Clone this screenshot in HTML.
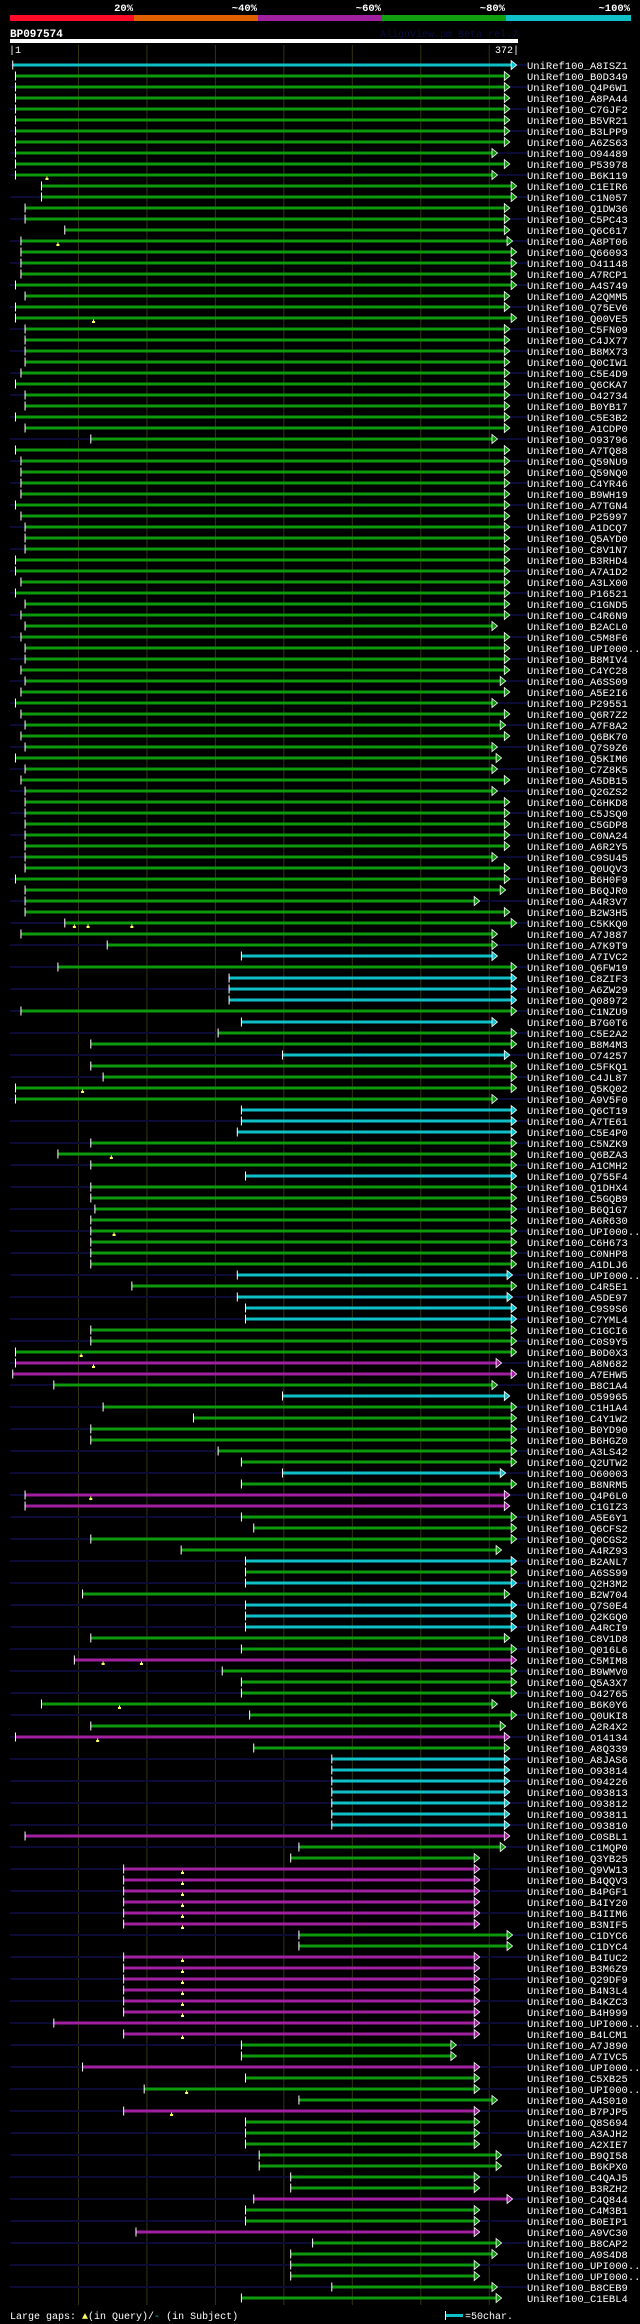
<!DOCTYPE html>
<html>
<head>
<meta charset="utf-8">
<style>
  html,body{margin:0;padding:0;background:#000;}
  body{width:640px;height:2324px;overflow:hidden;position:relative;}
  svg{display:block;}
  text{font-family:"Liberation Mono","DejaVu Sans Mono",monospace;}
</style>
</head>
<body>
<svg id="chart" width="640" height="2324" viewBox="0 0 640 2324" xmlns="http://www.w3.org/2000/svg">
  <rect x="0" y="0" width="640" height="2324" fill="#000"/>
  <g>
    <rect x="10" y="15" width="124" height="6" fill="#ff0a28"/>
    <rect x="134" y="15" width="124" height="6" fill="#e06000"/>
    <rect x="258" y="15" width="124" height="6" fill="#a020a0"/>
    <rect x="382" y="15" width="124" height="6" fill="#10a010"/>
    <rect x="506" y="15" width="125" height="6" fill="#10c0c8"/>
    <text x="133" y="11" fill="#fff" font-size="10.5" font-weight="bold" text-anchor="end">20%</text>
    <text x="257" y="11" fill="#fff" font-size="10.5" font-weight="bold" text-anchor="end">~40%</text>
    <text x="381" y="11" fill="#fff" font-size="10.5" font-weight="bold" text-anchor="end">~60%</text>
    <text x="505" y="11" fill="#fff" font-size="10.5" font-weight="bold" text-anchor="end">~80%</text>
    <text x="630" y="11" fill="#fff" font-size="10.5" font-weight="bold" text-anchor="end">~100%</text>
  </g>
  <text x="10" y="37" fill="#fff" font-size="11" font-weight="bold">BP097574</text>
  <text x="518" y="37" fill="#0c0c44" font-size="10" text-anchor="end">AlignView.pm Beta rel.7</text>
  <rect x="10" y="39" width="508" height="4" fill="#fff"/>
  <text x="9" y="53" fill="#fff" font-size="10">|1</text>
  <text x="519" y="53" fill="#fff" font-size="10" text-anchor="end">372|</text>
  <g id="grid"></g>
  <g id="rows"></g>
  <g>
    <text x="10" y="2319" fill="#fff" font-size="10">Large gaps: <tspan fill="#ffff60">▲</tspan>(in Query)/<tspan fill="#10c0c8">-</tspan> (in Subject)</text>
    <rect x="445" y="2311" width="1" height="9" fill="#fff"/>
    <rect x="446" y="2314" width="17" height="3" fill="#10c0c8"/>
    <text x="465" y="2319" fill="#fff" font-size="10">=50char.</text>
  </g>
</svg>
<script>
const names = ["A8ISZ1","B0D349","Q4P6W1","A8PA44","C7GJF2","B5VR21","B3LPP9","A6ZS63","O94489","P53978","B6K119","C1EIR6","C1N057","Q1DW36","C5PC43","Q6C617","A8PT06","Q66093","O41148","A7RCP1","A4S749","A2QMM5","Q75EV6","Q00VE5","C5FN09","C4JX77","B8MX73","Q0CIW1","C5E4D9","Q6CKA7","O42734","B0YB17","C5E3B2","A1CDP0","O93796","A7TQ88",
"Q59NU9","Q59NQ0","C4YR46","B9WH19","A7TGN4","P25997","A1DCQ7","Q5AYD0","C8V1N7","B3RHD4","A7A1D2","A3LX00","P16521","C1GND5","C4R6N9","B2ACL0","C5M8F6","UPI000..","B8MIV4","C4YC28","A6SS09","A5E2I6","P29551","Q6R7Z2","A7F8A2","Q6BK70","Q7S9Z6","Q5KIM6","C7Z8K5","A5DB15","Q2GZS2","C6HKD8","C5JSQ0","C5GDP8","C0NA24","A6R2Y5","C9SU45","Q0UQV3","B6H0F9","B6QJR0","A4R3V7","B2W3H5","C5KKQ0","A7J887","A7K9T9","A7IVC2","Q6FW19","C8ZIF3","A6ZW29","Q08972","C1NZU9","B7G0T6","C5E2A2","B8M4M3","O74257","C5FKQ1","C4JL87","Q5KQ02","A9V5F0","Q6CT19","A7TE61","C5E4P0","C5NZK9","Q6BZA3","A1CMH2","Q755F4","Q1DHX4","C5GQB9","B6Q1G7","A6R630","UPI000..","C6H673","C0NHP8","A1DLJ6","UPI000..","C4R5E1","A5DE97","C9S9S6","C7YML4","C1GCI6","C0S9Y5","B0D0X3","A8N682","A7EHW5",
"B8C1A4","O59965","C1H1A4","C4Y1W2","B0YD90","B6HGZ0","A3LS42","Q2UTW2","O60003","B8NRM5","Q4P6L0","C1GIZ3","A5E6Y1","Q6CFS2","Q0CGS2","A4RZ93","B2ANL7","A6SS99","Q2H3M2","B2W704","Q7S0E4","Q2KGQ0","A4RCI9","C8V1D8","Q016L6","C5MIM8","B9WMV0","Q5A3X7","O42765","B6K0Y6","Q0UKI8","A2R4X2","O14134","A8Q339","A8JAS6","O93814","O94226","O93813","O93812","O93811","O93810","C0SBL1","C1MQP0","Q3YB25","Q9VW13","B4QQV3","B4PGF1","B4IY20","B4IIM6","B3NIF5","C1DYC6","C1DYC4","B4IUC2","B3M6Z9","Q29DF9","B4N3L4","B4KZC3","B4H999","UPI000..","B4LCM1","A7J890","A7IVC5","UPI000..","C5XB25","UPI000..","A4S010","B7PJP5","Q8S694","A3AJH2","A2XIE7","B9QI58","B6KPX0","C4QAJ5","B3RZH2","C4Q844","C4M3B1","B0EIP1","A9VC30","B8CAP2","A9S4D8","UPI000..","UPI000..","B8CEB9","C1EBL4"];

const colorCodes = "c" + "g".repeat(80) + "c" + "g" + "ccc" + "g" + "c" + "gg" + "c" + "gggg" + "ccc" + "ggg" + "c" + "gggggggg" + "c" + "g" + "ccc" + "ggg" + "pp" + "g" + "c" + "gggggg" + "c" + "g" + "pp" + "gggg" + "c" + "g" + "c" + "g" + "ccc" + "gg" + "p" + "gggggg" + "p" + "g" + "ccccccc" + "p" + "gg" + "pppppp" + "gg" + "pppppppp" + "gg" + "p" + "ggg" + "p" + "ggggggg" + "p" + "gg" + "p" + "gggggg";

const starts = [3,5,5,5,5,5,5,5,5,5,5,24,24,12,12,41,9,9,9,9,5,12,5,5,12,12,12,12,9,5,12,12,5,12,
60,5,9,9,9,9,5,9,12,12,12,5,5,9,5,12,9,12,9,12,12,9,12,9,5,9,12,9,12,5,12,9,12,12,
12,12,12,12,12,12,5,12,12,12,41,9,72,170,36,161,161,161,9,170,153,60,200,60,69,5,5,170,170,167,60,36,60,173,
60,60,63,60,60,60,60,60,167,90,167,173,173,60,60,5,5,3,33,200,69,135,60,60,153,170,200,170,12,12,170,179,60,126,
173,173,173,54,173,173,173,60,170,48,156,170,170,24,176,60,5,179,236,236,236,236,236,236,236,12,212,206,84,84,84,84,84,84,
212,212,84,84,84,84,84,84,33,84,170,170,54,173,99,212,84,173,173,173,183,183,206,206,179,173,173,93,222,206,206,206,236,170];

const ends = [367,362,362,362,362,362,362,362,353,362,353,367,367,362,362,362,364,367,367,367,367,362,362,367,362,362,362,362,362,362,362,362,362,362,
353,362,362,362,362,362,362,362,362,362,362,362,362,362,362,362,362,353,362,362,362,362,359,362,353,362,359,362,353,356,353,362,353,362,
362,362,362,362,353,362,362,359,340,362,367,353,353,353,367,367,367,367,367,353,367,367,362,367,367,367,353,367,367,367,367,367,367,367,
367,367,367,367,367,367,367,367,364,367,364,367,367,367,367,367,356,367,353,362,367,367,367,367,367,367,359,367,362,362,367,367,367,356,
367,367,367,362,367,367,367,362,367,367,367,367,367,353,367,359,362,362,362,362,362,362,362,362,362,362,359,340,340,340,340,340,340,340,
364,364,340,340,340,340,340,340,340,340,323,323,340,340,340,353,340,340,340,340,356,356,340,340,364,340,340,340,356,353,340,340,353,356];

const gapRows = [10,16,23,78,78,78,93,99,106,117,118,130,145,145,149,152,164,165,166,167,168,169,172,173,174,175,176,177,179,184,186];
const gapPositions = [28,36,62,48,58,90,54,75,77,53,62,60,69,97,81,65,127,127,127,127,127,127,127,127,127,127,127,127,127,130,119];

const gridTicks = [51,101,151,201,251,301,351];

const NS = "http://www.w3.org/2000/svg";
const palette = {g:"#0c990c", c:"#10c0c8", p:"#a020a0", o:"#e06000", r:"#ff0a28"};
function xPos(aa){ return 10 + (aa - 1) * 508 / 371; }
function yPos(i){ return 65 + 11 * i; }
function mk(tag, attrs){ const e = document.createElementNS(NS, tag); for (const k in attrs) e.setAttribute(k, attrs[k]); return e; }

const grid = document.getElementById("grid");
gridTicks.forEach(function(t){
  const l = mk("line", {x1: xPos(t), x2: xPos(t), y1: 45, y2: 2305, stroke: "#34340e", "stroke-width": 1});
  
  
  grid.appendChild(l);
});

const rowsG = document.getElementById("rows");
names.forEach(function(nm, i){
  const y = yPos(i);
  const g = mk("g", {});
  
  
  if (i % 2 === 0) {
    const bg = mk("rect", {x: 10, y: y - 1, width: 517, height: 2, fill: "#0b0b36"});
    
    
    g.appendChild(bg);
  }
  const col = palette[colorCodes[i]] || palette.g;
  const x1 = xPos(starts[i]), x2 = xPos(ends[i]);
  const bar = mk("rect", {x: x1, y: y - 1.5, width: Math.max(0, x2 - x1), height: 3, fill: col});
  
  
  g.appendChild(bar);
  const tick = mk("rect", {x: x1 - 0.5, y: y - 4.5, width: 1, height: 9, fill: "#fff"});
  
  
  g.appendChild(tick);
  const arrow = mk("polygon", {points: x2 + "," + (y - 4.5) + " " + (x2 + 5.5) + "," + y + " " + x2 + "," + (y + 4.5), fill: col, stroke: "#fff", "stroke-width": 0.8});
  
  
  g.appendChild(arrow);
  const tx = mk("text", {x: 527, y: y + 4, fill: "#fff", "font-size": "10.5"});
  tx.textContent = "UniRef100_" + nm;
  
  
  g.appendChild(tx);
  rowsG.appendChild(g);
});

gapRows.forEach(function(r, k){
  const x = xPos(gapPositions[k]);
  const y = yPos(r);
  const m = mk("g", {});
  
  
  m.appendChild(mk("rect", {x: x - 0.5, y: y + 1.5, width: 1, height: 2, fill: "#ffff60"}));
  m.appendChild(mk("rect", {x: x - 1.5, y: y + 3, width: 3, height: 2, fill: "#ffff60"}));
  rowsG.appendChild(m);
});
</script>
</body>
</html>
